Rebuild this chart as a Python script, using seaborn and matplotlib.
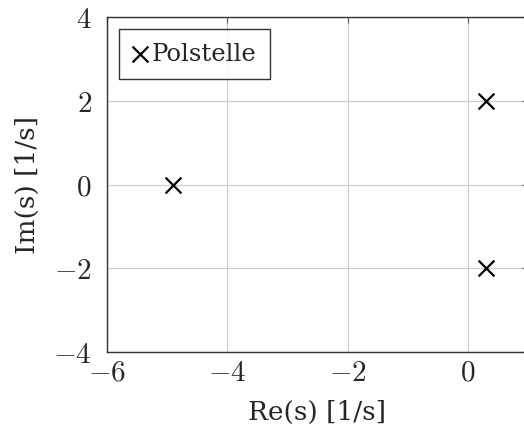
import matplotlib
matplotlib.use("Agg")
import matplotlib.pyplot as plt
from matplotlib.ticker import FuncFormatter, MultipleLocator
import seaborn as sns
import pandas as pd

# Pole locations of the system in the s-plane
pole_re = [-4.9, 0.3, 0.3]
pole_im = [0.0, 2.0, -2.0]
legend_label = "Polstelle"
x_label = "Re(s) [1/s]"
y_label = "Im(s) [1/s]"

sns.set_theme(style="white")
plt.rcParams["font.family"] = ["DejaVu Serif", "Liberation Serif"]
plt.rcParams["mathtext.fontset"] = "cm"

df = pd.DataFrame({"re": pole_re, "im": pole_im})

fig = plt.figure(figsize=(5.24, 4.34), dpi=100)
ax = fig.add_axes([107 / 524, 1 - 352 / 434, 421 / 524, 335 / 434])

sns.scatterplot(data=df, x="re", y="im", marker="x", color="black", s=130,
                linewidth=1.6, label=legend_label, ax=ax, zorder=5)

ax.set_xlim(-6, 1)
ax.set_ylim(-4, 4)
ax.xaxis.set_major_locator(MultipleLocator(2))
ax.yaxis.set_major_locator(MultipleLocator(2))
fmt = FuncFormatter(lambda v, p: f"${int(round(v))}$")
ax.xaxis.set_major_formatter(fmt)
ax.yaxis.set_major_formatter(fmt)

ax.grid(True, color="#cccccc", linewidth=0.9)
ax.set_axisbelow(True)
ax.tick_params(direction="in", length=4, width=0.9, color="#666666",
               labelsize=21, top=True, right=True)
ax.tick_params(axis="x", pad=5)
ax.tick_params(axis="y", pad=11)
for sp in ax.spines.values():
    sp.set_color("#333333")
    sp.set_linewidth(1.0)

ax.set_xlabel(x_label, fontsize=19, labelpad=9)
ax.set_ylabel(y_label, fontsize=19, labelpad=10)

leg = ax.legend(loc="upper left", fontsize=17.5, frameon=True, fancybox=False,
                handlelength=0.6, handletextpad=0.2, borderpad=0.55,
                borderaxespad=0.5)
leg.get_frame().set_edgecolor("black")
leg.get_frame().set_linewidth(1.0)

fig.savefig("out.png", dpi=100)
